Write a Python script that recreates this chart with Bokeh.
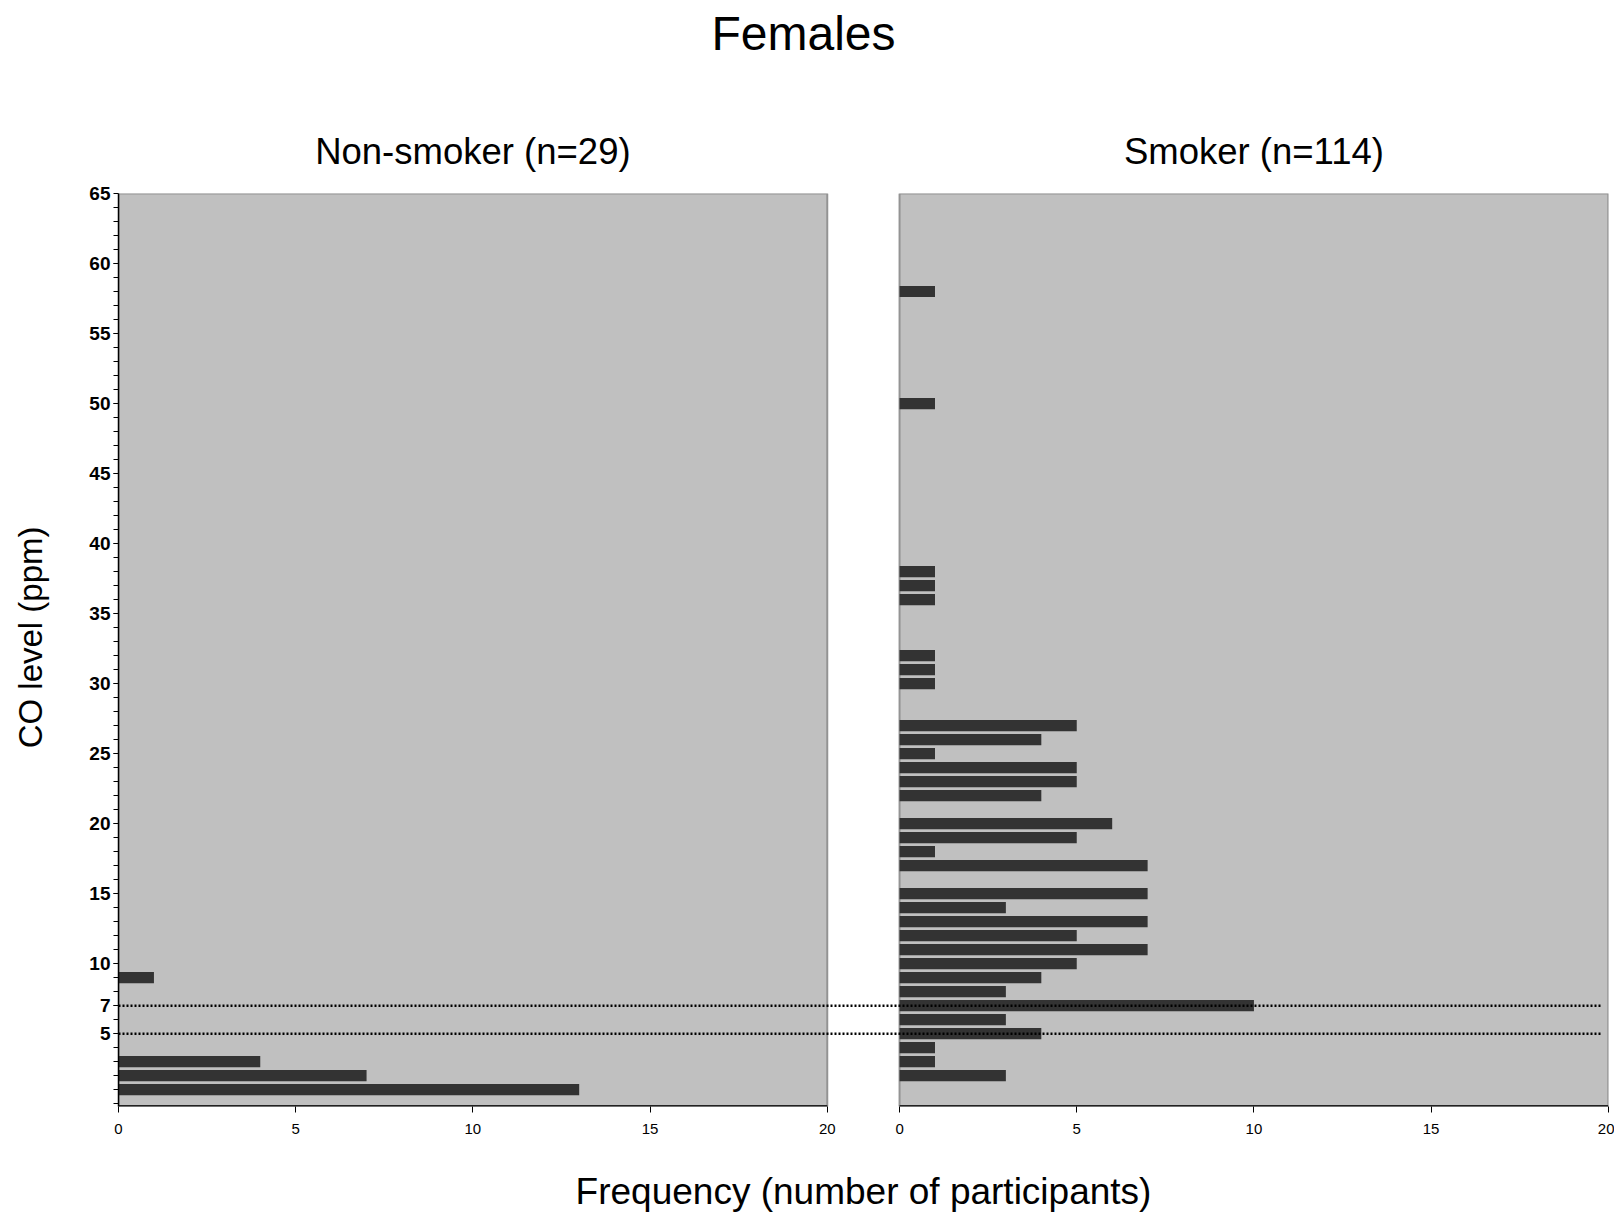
from bokeh.plotting import figure
from bokeh.models import Range1d, FixedTicker, CustomJSTickFormatter, LinearAxis
from bokeh.embed import file_html
from bokeh.resources import INLINE

# ---- data ----
ns_co = [1, 2, 3, 9]
ns_freq = [13, 7, 4, 1]
sm_co = [2, 3, 4, 5, 6, 7, 8, 9, 10, 11, 12, 13, 14, 15, 17, 18, 19, 20,
         22, 23, 24, 25, 26, 27, 30, 31, 32, 36, 37, 38, 50, 58]
sm_freq = [3, 1, 1, 4, 3, 10, 3, 4, 5, 7, 5, 7, 3, 7, 7, 1, 5, 6,
           4, 5, 5, 1, 4, 5, 1, 1, 1, 1, 1, 1, 1, 1]
y_ticks = [5, 7, 10, 15, 20, 25, 30, 35, 40, 45, 50, 55, 60, 65]
x_ticks = [0, 5, 10, 15, 20]
ref_lines = [5, 7]
panel_titles = ["Non-smoker (n=29)", "Smoker (n=114)"]
main_title = "Females"
x_label = "Frequency (number of participants)"
y_label = "CO level (ppm)"

FONT = "Liberation Sans"
X0 = 22.04          # offset of the second panel in x
PW = 20.0           # panel width in x units
XMAX = X0 + PW + 0.005
YMIN, YMAX = -0.2, 65.0
BH = 0.8            # bar thickness
W, H = 1614, 1216

p = figure(width=W, height=H, output_backend="svg", toolbar_location=None,
           x_range=Range1d(0, XMAX), y_range=Range1d(YMIN, YMAX),
           min_border_left=118, min_border_right=W - 1608, min_border_top=193,
           min_border_bottom=H - 1106)
p.outline_line_color = None
p.grid.visible = False
p.background_fill_color = "white"

# panels
p.quad(left=[0, X0], right=[20, X0 + PW], bottom=[YMIN, YMIN], top=[YMAX, YMAX],
       fill_color="#c0c0c0", line_color="#939393", line_width=2)
# bottom edges (black)
p.segment(x0=[0, X0], x1=[20, X0 + PW], y0=[YMIN, YMIN], y1=[YMIN, YMIN],
          line_color="#222222", line_width=3)

# bars
p.quad(left=[0] * len(ns_co), right=ns_freq,
       bottom=[c - BH / 2 for c in ns_co], top=[c + BH / 2 for c in ns_co],
       fill_color="#333333", line_color=None)
p.quad(left=[X0] * len(sm_co), right=[X0 + f for f in sm_freq],
       bottom=[c - BH / 2 for c in sm_co], top=[c + BH / 2 for c in sm_co],
       fill_color="#333333", line_color=None)

# dotted reference lines
for r in ref_lines:
    p.line(x=[0, X0 + PW - 0.17], y=[r, r], line_color="black", line_width=2.5,
           line_dash="2 2")

# y axis
ya = p.yaxis[0]
ya.ticker = FixedTicker(ticks=y_ticks, minor_ticks=list(range(0, 65)))
ya.axis_line_color = "black"
ya.axis_line_width = 1.5
ya.major_tick_in = 0
ya.major_tick_out = 5
ya.minor_tick_in = 0
ya.minor_tick_out = 5
ya.major_tick_line_color = "black"
ya.minor_tick_line_color = "black"
ya.major_label_text_font = FONT
ya.major_label_text_font_style = "bold"
ya.major_label_text_font_size = "19px"
ya.major_label_text_color = "black"
ya.major_label_standoff = 3

# x axis
xa = p.xaxis[0]
xa.ticker = FixedTicker(ticks=x_ticks + [X0 + t for t in x_ticks], minor_ticks=[])
xa.formatter = CustomJSTickFormatter(
    args=dict(off=X0), code="return (tick > 21 ? tick - off : tick).toFixed(0);")
xa.axis_line_color = None
xa.major_tick_in = 0
xa.major_tick_out = 6
xa.major_tick_line_color = "black"
xa.minor_tick_line_color = None
xa.major_label_text_font = FONT
xa.major_label_text_font_size = "15px"
xa.major_label_text_color = "black"
xa.major_label_standoff = 11
xa.axis_label = x_label
xa.axis_label_text_font = FONT
xa.axis_label_text_font_size = "37px"
xa.axis_label_text_font_style = "normal"
xa.axis_label_text_color = "black"
xa.axis_label_standoff = 34


def text_axis(loc, ticks, labels, size, standoff, orientation="horizontal"):
    ax = LinearAxis(ticker=FixedTicker(ticks=ticks, minor_ticks=[]),
                    formatter=CustomJSTickFormatter(
                        args=dict(labs=labels, tpos=ticks),
                        code="let i = 0; let d = 1e9;"
                             "for (let k = 0; k < tpos.length; k++) {"
                             "  const e = Math.abs(tpos[k] - tick);"
                             "  if (e < d) { d = e; i = k; } }"
                             "return labs[i];"),
                    axis_line_color=None, major_tick_line_color=None,
                    minor_tick_line_color=None, major_tick_out=0, major_tick_in=0,
                    major_label_text_font=FONT, major_label_text_font_size=size,
                    major_label_text_color="black", major_label_standoff=standoff,
                    major_label_orientation=orientation)
    p.add_layout(ax, loc)
    return ax


# panel titles (closest to the frame), then main title above them
text_axis("above", [10.0, X0 + 10.0], panel_titles, "36.5px", 22)
text_axis("above", [19.33], [main_title], "48px", 68)
# y axis title, left of the numeric axis
text_axis("left", [33.3], [y_label], "33px", 37, orientation="vertical")

open("out.html", "w").write(file_html(p, INLINE))
